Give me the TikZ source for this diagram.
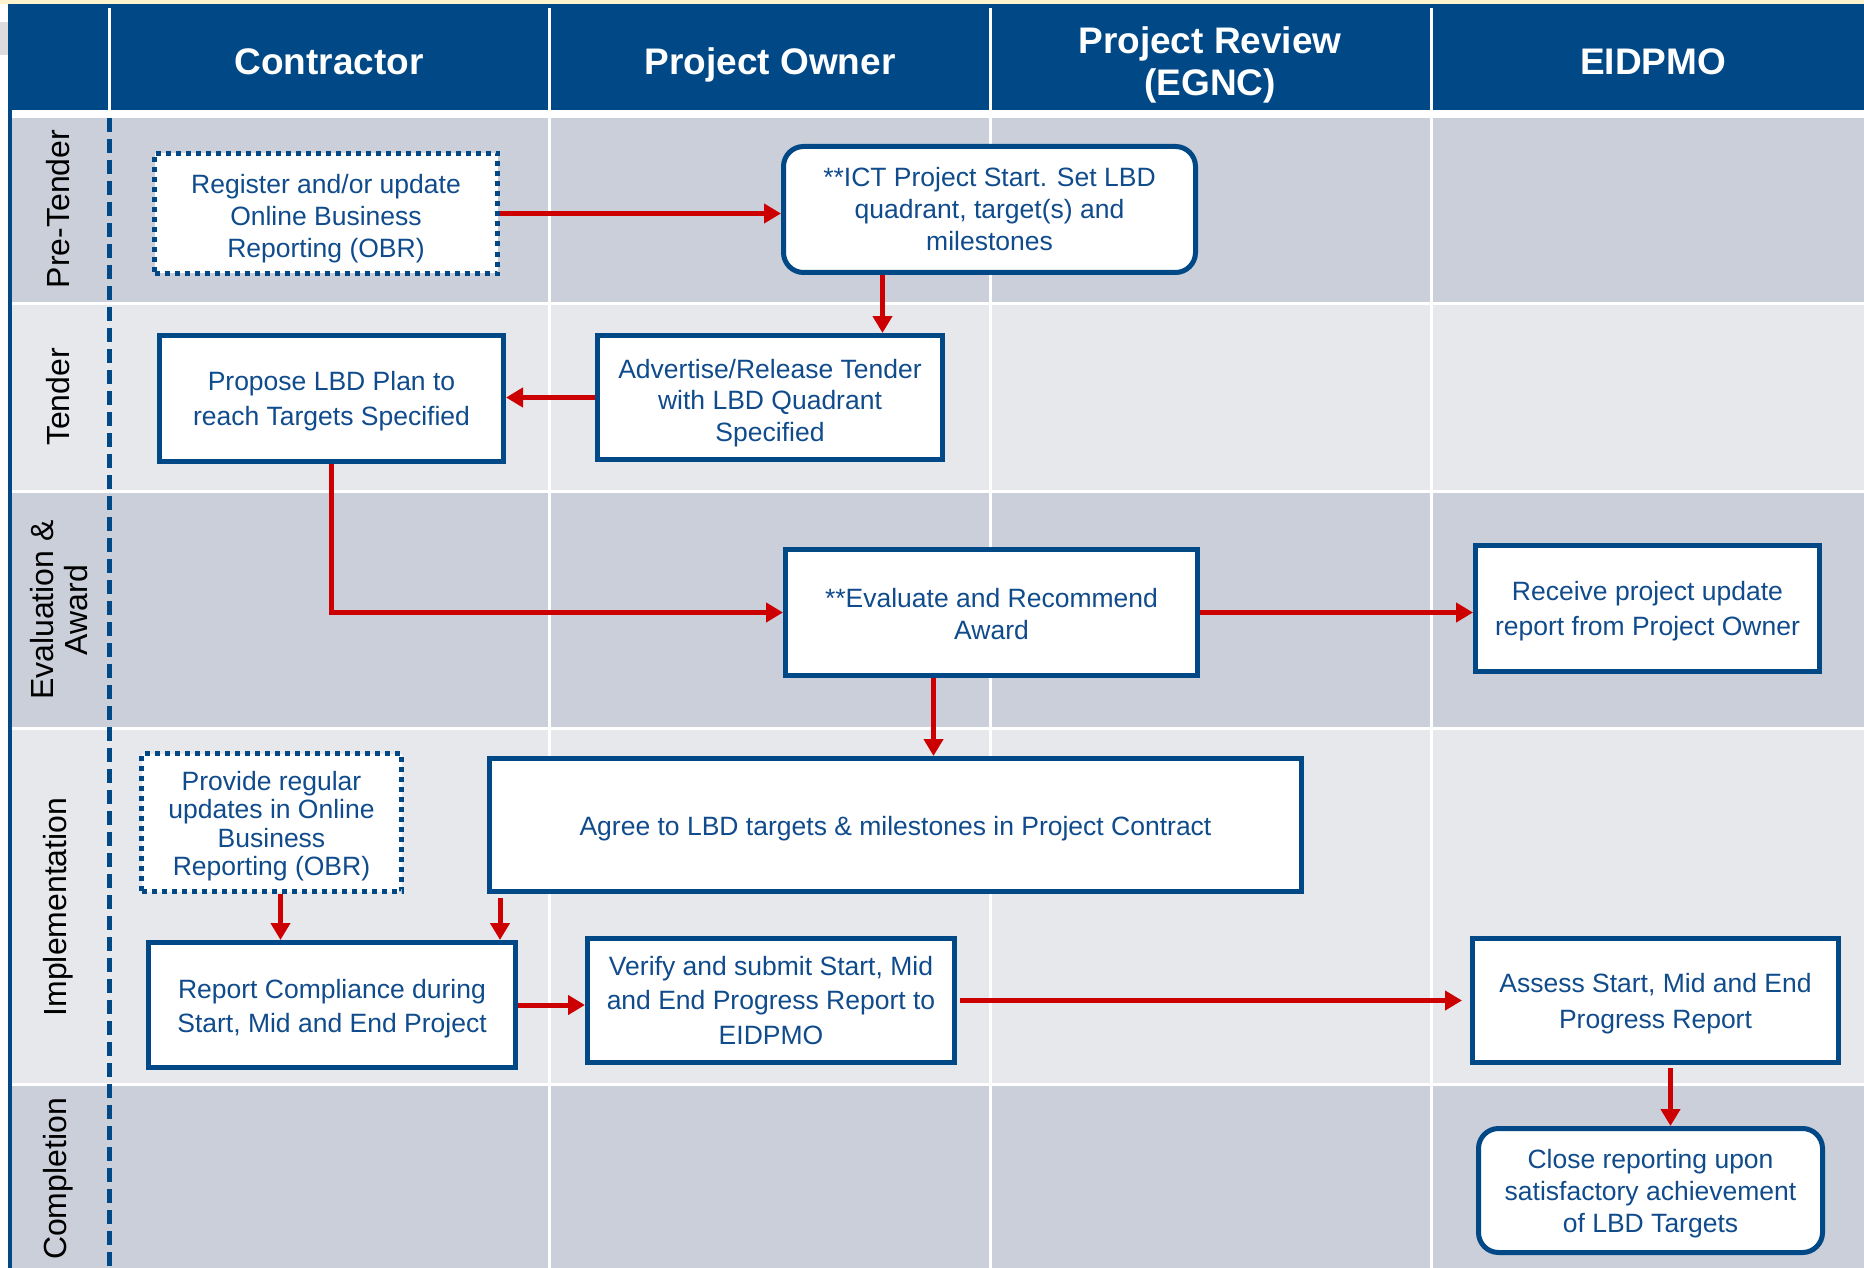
\documentclass[tikz,border=0pt]{standalone}
\usepackage{fontspec}
\setmainfont{Liberation Sans}
\usetikzlibrary{arrows.meta}
\definecolor{hdrblue}{RGB}{0,72,134}
\definecolor{txtblue}{RGB}{16,75,140}
\definecolor{lanedark}{RGB}{203,207,218}
\definecolor{lanelight}{RGB}{231,232,236}
\definecolor{arrred}{RGB}{204,0,0}
\definecolor{topyellow}{RGB}{252,243,206}
\definecolor{cornergrey}{RGB}{220,220,220}
% invisible strut that lowers a box's text by #1 pt
\newcommand\dn[1]{\rule{0pt}{\dimexpr 19.5pt + #1pt + #1pt\relax}}
\tikzset{
  box/.style={draw=hdrblue, line width=5pt, fill=white, text=txtblue, align=center,
    inner sep=0pt, font=\fontsize{26.5}{32}\selectfont},
  rbox/.style={box, rounded corners=20pt},
  dbox/.style={box, dash pattern=on 5pt off 5pt},
  lh/.style={font=\fontsize{26.5}{#1}\selectfont},
  arr/.style={draw=arrred, line width=5pt, -{Triangle[length=17pt,width=19pt]}},
  hdr/.style={text=white, font=\fontsize{37}{42}\selectfont\bfseries, align=center, inner sep=0pt},
  lanelbl/.style={rotate=90, text=black, font=\fontsize{32}{34}\selectfont, align=center, inner sep=0pt},
}
\begin{document}
\begin{tikzpicture}[x=1pt,y=-1pt]
\useasboundingbox (0,0) rectangle (1864,1268);
% background
\fill[white] (0,0) rectangle (1864,1268);
\fill[topyellow] (0,0) rectangle (1864,4);
\fill[cornergrey] (0,22) rectangle (8,55);
% header
\fill[hdrblue] (8,4) rectangle (1864,110);
\fill[hdrblue] (8,4) rectangle (12,1268);
% lanes
\fill[lanedark]  (12,118) rectangle (1864,302);
\fill[lanelight] (12,305) rectangle (1864,490);
\fill[lanedark]  (12,493) rectangle (1864,727);
\fill[lanelight] (12,730) rectangle (1864,1083);
\fill[lanedark]  (12,1086) rectangle (1864,1268);
% column dividers
\foreach \cx in {549,990,1431} {
  \fill[white] (\cx-1.5,8) rectangle (\cx+1.5,1268);
}
\fill[white] (107.5,8) rectangle (110.5,110);
\draw[hdrblue, line width=5pt, dash pattern=on 14pt off 7pt] (109,118) -- (109,1268);
% header labels
\node[hdr] (hc) at (329,62) {Contractor};
\node[hdr] (hpo) at (770,64.5) {Project Owner};
\node[hdr] (hpr) at (1210,64.5) {Project Review\\(EGNC)};
\node[hdr] (he) at (1653,62) {EIDPMO};
% lane labels
\node[lanelbl] (lpt) at (58,209) {Pre-Tender};
\node[lanelbl] (lt) at (58,397) {Tender};
\node[lanelbl] (lea) at (59,610) {Evaluation \&\\Award};
\node[lanelbl] (li) at (58,907) {Implementation};
\node[lanelbl] (lc) at (58,1179) {Completion};
% boxes
\node[dbox, minimum width=343pt, minimum height=120pt] (reg) at (326,213.5)
  {\dn{5}Register and/or update\\Online Business\\Reporting (OBR)};
\node[rbox, minimum width=412pt, minimum height=126pt] (ict) at (989.5,209.5)
  {**ICT Project Start. Set LBD\\quadrant, target(s) and\\milestones};
\node[box, lh=31.5, minimum width=345pt, minimum height=124pt] (adv) at (770,397.5)
  {\dn{5}Advertise/Release Tender\\with LBD Quadrant\\Specified};
\node[box, lh=34.5, minimum width=344pt, minimum height=126pt] (prop) at (331.5,398.5)
  {\dn{2.5}Propose LBD Plan to\\reach Targets Specified};
\node[box, minimum width=412pt, minimum height=126pt] (eval) at (991.5,612.5)
  {\dn{1}**Evaluate and Recommend\\Award};
\node[box, lh=34.5, minimum width=344pt, minimum height=126pt] (rec) at (1647.5,608.5)
  {\dn{2.5}Receive project update\\report from Project Owner};
\node[box, minimum width=812pt, minimum height=133pt] (agree) at (895.5,825)
  {\dn{3.5}Agree to LBD targets \& milestones in Project Contract};
\node[dbox, lh=28.5, minimum width=260pt, minimum height=138pt] (prov) at (271.5,822.5)
  {\dn{3.5}Provide regular\\updates in Online\\Business\\Reporting (OBR)};
\node[box, lh=34.5, minimum width=367pt, minimum height=125pt] (rep) at (332,1005)
  {\dn{3.5}Report Compliance during\\Start, Mid and End Project};
\node[box, lh=34.5, minimum width=367pt, minimum height=124pt] (ver) at (771,1000.5)
  {Verify and submit Start, Mid\\and End Progress Report to\\EIDPMO};
\node[box, lh=35.5, minimum width=366pt, minimum height=124pt] (ass) at (1655.5,1000.5)
  {\dn{3}Assess Start, Mid and End\\Progress Report};
\node[rbox, minimum width=344pt, minimum height=124pt] (close) at (1650.5,1190.5)
  {\dn{2.5}Close reporting upon\\satisfactory achievement\\of LBD Targets};
% connectors
\draw[arr] (reg.east) -- (reg.east -| ict.west);
\draw[arr] ([xshift=-107pt]ict.south) -- ([xshift=-107pt]ict.south |- adv.north);
\draw[arr] (adv.west) -- (adv.west -| prop.east);
\draw[arr] (prop.south) |- (eval.west);
\draw[arr] (eval.east) -- (eval.east -| rec.west);
\draw[arr] ([xshift=-58pt]eval.south) -- ([xshift=-58pt]eval.south |- agree.north);
\draw[arr] ([xshift=9pt]prov.south) -- ([xshift=9pt]prov.south |- rep.north);
\draw[arr, shorten <=4pt] ([xshift=13pt]agree.south west) -- ([xshift=13pt]agree.south west |- rep.north);
\draw[arr] (rep.east) -- (rep.east -| ver.west);
\draw[arr, shorten <=3pt, shorten >=8pt] (ver.east) -- (ver.east -| ass.west);
\draw[arr, shorten <=3pt] ([xshift=15pt]ass.south) -- ([xshift=15pt]ass.south |- close.north);
\end{tikzpicture}
\end{document}
